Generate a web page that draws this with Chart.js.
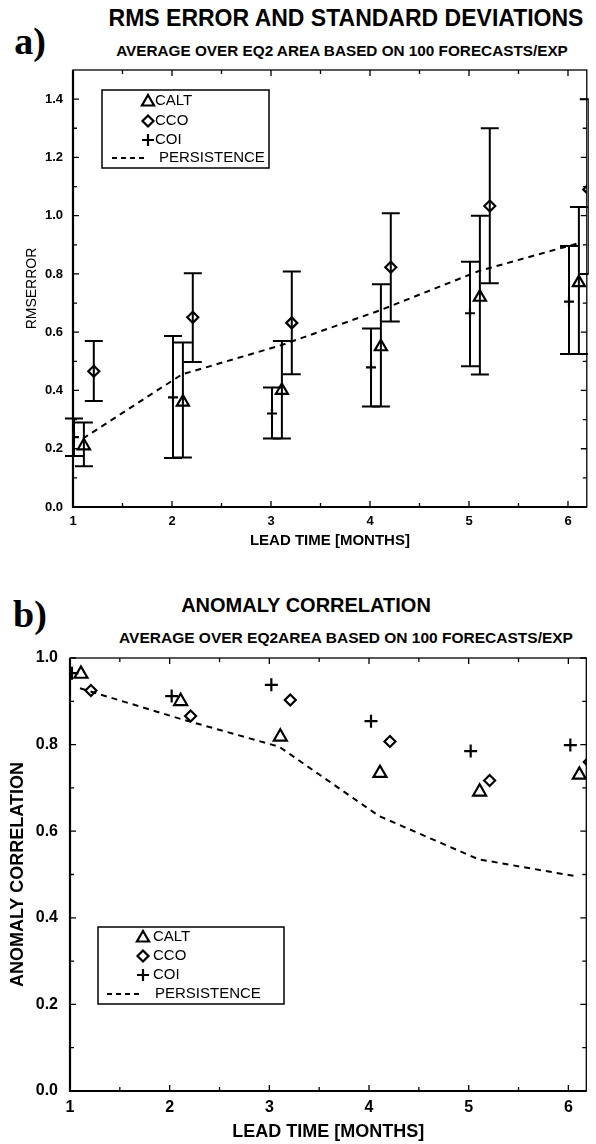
<!DOCTYPE html>
<html><head><meta charset="utf-8">
<script src="https://cdn.jsdelivr.net/npm/chart.js@4.4.0/dist/chart.umd.min.js"></script>
<style>
html,body{margin:0;padding:0;background:#fff;}
body{width:596px;height:1144px;position:relative;overflow:hidden;font-family:"Liberation Sans",Arial,sans-serif;color:#000;}
.t{position:absolute;white-space:nowrap;font-weight:bold;line-height:1;transform:translate(-50%,-50%);}
.lab{font-family:"Liberation Serif","DejaVu Serif",serif;}
#w1{position:absolute;left:0;top:0;width:596px;height:565px;}
#w2{position:absolute;left:0;top:570px;width:596px;height:574px;}
</style></head><body>
<div class="t lab" style="left:30px;top:41px;font-size:38px;">a)</div>
<div class="t" style="left:346px;top:18px;font-size:23px;">RMS ERROR AND STANDARD DEVIATIONS</div>
<div class="t" style="left:342px;top:51px;font-size:15.3px;">AVERAGE OVER EQ2 AREA BASED ON 100 FORECASTS/EXP</div>
<div class="t lab" style="left:30px;top:614px;font-size:38px;">b)</div>
<div class="t" style="left:306px;top:605px;font-size:20px;">ANOMALY CORRELATION</div>
<div class="t" style="left:346px;top:638px;font-size:15.5px;">AVERAGE OVER EQ2AREA BASED ON 100 FORECASTS/EXP</div>
<div id="w1"><canvas id="c1" width="596" height="565"></canvas></div>
<div id="w2"><canvas id="c2" width="596" height="574"></canvas></div>
<script>
// ---------- data ----------
const leadTimes = [1, 2, 3, 4, 5, 6];
const seriesNames = ['CALT', 'CCO', 'COI', 'PERSISTENCE'];
// x offsets of each experiment's marker from the lead time (as plotted in the original)
const offCOI = 0.01, offCALT = 0.11, offCCO = 0.21, offPers = 0.1;

// (a) RMS error and standard deviations
const rmsCALT   = [0.21, 0.36, 0.40, 0.55, 0.72, 0.77];
const rmsCALTLo = [0.14, 0.17, 0.235, 0.345, 0.455, 0.525];
const rmsCALTHi = [0.29, 0.565, 0.57, 0.765, 1.00, 1.03];
const rmsCCO    = [0.466, 0.651, 0.632, 0.823, 1.033, 1.09];
const rmsCCOLo  = [0.364, 0.498, 0.456, 0.637, 0.768, 0.80];
const rmsCCOHi  = [0.57, 0.802, 0.808, 1.008, 1.30, 1.40];
const rmsCOI    = [0.24, 0.376, 0.321, 0.479, 0.665, 0.705];
const rmsCOILo  = [0.175, 0.168, 0.235, 0.345, 0.483, 0.525];
const rmsCOIHi  = [0.304, 0.587, 0.41, 0.613, 0.842, 0.896];
const rmsPers   = [0.235, 0.455, 0.555, 0.675, 0.81, 0.905];

// (b) anomaly correlation
const acCALT = [0.963, 0.900, 0.818, 0.734, 0.691, 0.730];
const acCCO  = [0.925, 0.866, 0.903, 0.807, 0.717, 0.760];
const acCOI  = [0.965, 0.912, 0.938, 0.854, 0.785, 0.799];
const acPers = [0.930, 0.860, 0.795, 0.635, 0.535, 0.495];

const rmsTickLabels = ['0.0','0.2','0.4','0.6','0.8','1.0','1.2','1.4'];
const acTickLabels  = ['0.0','0.2','0.4','0.6','0.8','1.0'];
const xTickLabels   = ['1','2','3','4','5','6'];

// ---------- helpers ----------
const FONT = '"Liberation Sans", Arial, sans-serif';
const pts = (vals, off) => vals.map((v, i) => ({x: leadTimes[i] + off, y: v}));

function scatterDs(label, data, style, r) {
  return {type:'scatter', label, data, pointStyle:style, pointRadius:r,
    borderColor:'#000', backgroundColor:'rgba(0,0,0,0)', pointBorderWidth:2.2, borderWidth:2.2};
}
function persDs(data) {
  return {type:'line', label:'PERSISTENCE', data, borderColor:'#000', borderWidth:2,
    borderDash:[6,5], pointRadius:0, fill:false, tension:0};
}

function drawSym(ctx, style, x, y, r) {
  ctx.beginPath();
  if (style === 'triangle') {
    for (let k = 0; k < 3; k++) {
      const a = k * 2 * Math.PI / 3;
      const px = x + Math.sin(a) * r, py = y - Math.cos(a) * r;
      k ? ctx.lineTo(px, py) : ctx.moveTo(px, py);
    }
    ctx.closePath();
  } else if (style === 'rectRot') {
    ctx.moveTo(x, y - r); ctx.lineTo(x + r, y); ctx.lineTo(x, y + r); ctx.lineTo(x - r, y); ctx.closePath();
  } else if (style === 'cross') {
    ctx.moveTo(x - r, y); ctx.lineTo(x + r, y); ctx.moveTo(x, y - r); ctx.lineTo(x, y + r);
  }
  ctx.stroke();
}

function errPlugin(bars, cap) {
  return {id:'errbars', beforeDatasetsDraw(chart) {
    const {ctx, chartArea:a, scales:{x, y}} = chart;
    ctx.save();
    ctx.beginPath(); ctx.rect(a.left - 10, a.top, a.right - a.left + 12, a.bottom - a.top); ctx.clip();
    ctx.strokeStyle = '#000'; ctx.lineWidth = 2;
    bars.forEach(b => b.xs.forEach((xv, i) => {
      const px = x.getPixelForValue(xv), lo = y.getPixelForValue(b.lo[i]), hi = y.getPixelForValue(b.hi[i]);
      ctx.beginPath();
      ctx.moveTo(px, lo); ctx.lineTo(px, hi);
      ctx.moveTo(px - cap, lo); ctx.lineTo(px + cap, lo);
      ctx.moveTo(px - cap, hi); ctx.lineTo(px + cap, hi);
      ctx.stroke();
    }));
    ctx.restore();
  }};
}

function framePlugin(yMinorStep) {
  return {id:'frame', afterDatasetsDraw(chart) {
    const {ctx, chartArea:a, scales:{x, y}} = chart;
    ctx.save(); ctx.strokeStyle = '#000';
    ctx.lineWidth = 1.3;
    ctx.strokeRect(a.left, a.top, a.right - a.left, a.bottom - a.top);
    ctx.lineWidth = 2.2;
    ctx.beginPath(); ctx.moveTo(a.left, a.top); ctx.lineTo(a.left, a.bottom); ctx.lineTo(a.right, a.bottom); ctx.stroke();
    ctx.lineWidth = 1.3; ctx.beginPath();
    const xt = x.ticks.map(t => t.value), yt = y.ticks.map(t => t.value);
    const xs = [], ys = [];
    xt.forEach((v, i) => { xs.push([v, 6]); if (i < xt.length - 1) xs.push([(v + xt[i+1]) / 2, 4]); else if (v + 0.5 <= x.max) xs.push([v + 0.5, 4]); });
    yt.forEach((v, i) => { ys.push([v, 6]); if (i < yt.length - 1) ys.push([(v + yt[i+1]) / 2, 4]); else if (v + yMinorStep < y.max - 1e-6) ys.push([v + yMinorStep, 4]); });
    xs.forEach(([v, l]) => { const p = x.getPixelForValue(v);
      ctx.moveTo(p, a.bottom); ctx.lineTo(p, a.bottom - l); ctx.moveTo(p, a.top); ctx.lineTo(p, a.top + l); });
    ys.forEach(([v, l]) => { const p = y.getPixelForValue(v);
      ctx.moveTo(a.left, p); ctx.lineTo(a.left + l, p); ctx.moveTo(a.right, p); ctx.lineTo(a.right - l, p); });
    ctx.stroke(); ctx.restore();
  }};
}

function legendPlugin(L) {
  return {id:'boxlegend', afterDraw(chart) {
    const ctx = chart.ctx;
    ctx.save();
    ctx.strokeStyle = '#000'; ctx.fillStyle = '#fff'; ctx.lineWidth = 1.5;
    ctx.fillRect(L.x0, L.y0, L.x1 - L.x0, L.y1 - L.y0);
    ctx.strokeRect(L.x0, L.y0, L.x1 - L.x0, L.y1 - L.y0);
    ctx.fillStyle = '#000'; ctx.font = L.size + 'px ' + FONT; ctx.textBaseline = 'middle'; ctx.textAlign = 'left';
    const styles = ['triangle', 'rectRot', 'cross'];
    const radii = [7, 5.5, 6];
    ctx.lineWidth = 2.2;
    for (let i = 0; i < 3; i++) {
      drawSym(ctx, styles[i], L.sx, L.ys[i] + (i === 0 ? 1 : 0), radii[i]);
      ctx.fillText(seriesNames[i], L.tx, L.ys[i]);
    }
    ctx.setLineDash([5, 4]); ctx.lineWidth = 1.8;
    ctx.beginPath(); ctx.moveTo(L.d0, L.ys[3]); ctx.lineTo(L.d1, L.ys[3]); ctx.stroke();
    ctx.setLineDash([]);
    ctx.fillText(seriesNames[3], L.px, L.ys[3]);
    ctx.restore();
  }};
}

function baseOptions(o) {
  return {
    responsive:false, animation:false, events:[],
    layout:{padding:o.pad},
    plugins:{legend:{display:false}, title:{display:false}, tooltip:{enabled:false}},
    scales:{
      x:{type:'linear', position:'bottom', min:1, max:o.xmax,
        afterFit:s => { s.height = o.xh; },
        grid:{display:false, drawTicks:false}, border:{display:false},
        ticks:{stepSize:1, includeBounds:false, padding:o.xtp, color:'#000',
          font:{family:FONT, size:o.tsz, weight:'bold', lineHeight:1},
          callback:(v) => xTickLabels[leadTimes.indexOf(v)] ?? ''},
        title:{display:true, text:'LEAD TIME [MONTHS]', color:'#000',
          font:{family:FONT, size:o.xts, weight:'bold', lineHeight:1}, padding:{top:0, bottom:o.xtpad}}},
      y:{type:'linear', min:0, max:o.ymax,
        afterFit:s => { s.width = o.yw; },
        grid:{display:false, drawTicks:false}, border:{display:false},
        ticks:{stepSize:0.2, includeBounds:false, padding:o.ytp, color:'#000',
          font:{family:FONT, size:o.tsz, weight:'bold', lineHeight:1},
          callback:(v) => o.ylabels[Math.round(v / 0.2)] ?? ''},
        title:{display:true, text:o.ytitle, color:'#000',
          font:{family:FONT, size:o.yts, weight:o.ytw, lineHeight:1}, padding:{top:o.ytpad, bottom:0}}}
    }
  };
}

// ---------- chart a ----------
new Chart(document.getElementById('c1'), {
  type:'scatter',
  data:{datasets:[
    persDs(pts(rmsPers, offPers)),
    scatterDs('COI', pts(rmsCOI, offCOI), 'cross', 5),
    scatterDs('CALT', pts(rmsCALT, offCALT), 'triangle', 7),
    scatterDs('CCO', pts(rmsCCO, offCCO), 'rectRot', 5.5)
  ]},
  options:baseOptions({pad:{top:70, right:1, bottom:0, left:0}, xmax:6.19, ymax:1.5,
    xh:58, yw:73, xtp:7.5, ytp:10, tsz:13, xts:15, xtpad:16.5, ytitle:'RMSERROR', yts:14, ytw:'normal', ytpad:25,
    ylabels:rmsTickLabels}),
  plugins:[
    errPlugin([
      {xs:leadTimes.map(t => t + offCOI), lo:rmsCOILo, hi:rmsCOIHi},
      {xs:leadTimes.map(t => t + offCALT), lo:rmsCALTLo, hi:rmsCALTHi},
      {xs:leadTimes.map(t => t + offCCO), lo:rmsCCOLo, hi:rmsCCOHi}
    ], 9),
    framePlugin(0.1),
    legendPlugin({x0:102, y0:90, x1:269, y1:168, size:15, sx:148, tx:155, ys:[101, 121, 140, 158], d0:112, d1:148, px:159})
  ]
});

// ---------- chart b ----------
new Chart(document.getElementById('c2'), {
  type:'scatter',
  data:{datasets:[
    persDs(pts(acPers, offPers)),
    scatterDs('COI', pts(acCOI, offCOI + 0.01), 'cross', 6.5),
    scatterDs('CALT', pts(acCALT, offCALT), 'triangle', 7.5),
    scatterDs('CCO', pts(acCCO, offCCO), 'rectRot', 5.5)
  ]},
  options:baseOptions({pad:{top:88, right:3, bottom:0, left:0}, xmax:6.18, ymax:1.0,
    xh:53, yw:70, xtp:9, ytp:12, tsz:16, xts:18, xtpad:3, ytitle:'ANOMALY CORRELATION', yts:18, ytw:'bold', ytpad:9,
    ylabels:acTickLabels}),
  plugins:[
    framePlugin(0.1),
    legendPlugin({x0:98, y0:357, x1:284, y1:434, size:15, sx:143, tx:153, ys:[367, 386, 405, 424], d0:107, d1:141, px:155})
  ]
});
</script>
</body></html>
